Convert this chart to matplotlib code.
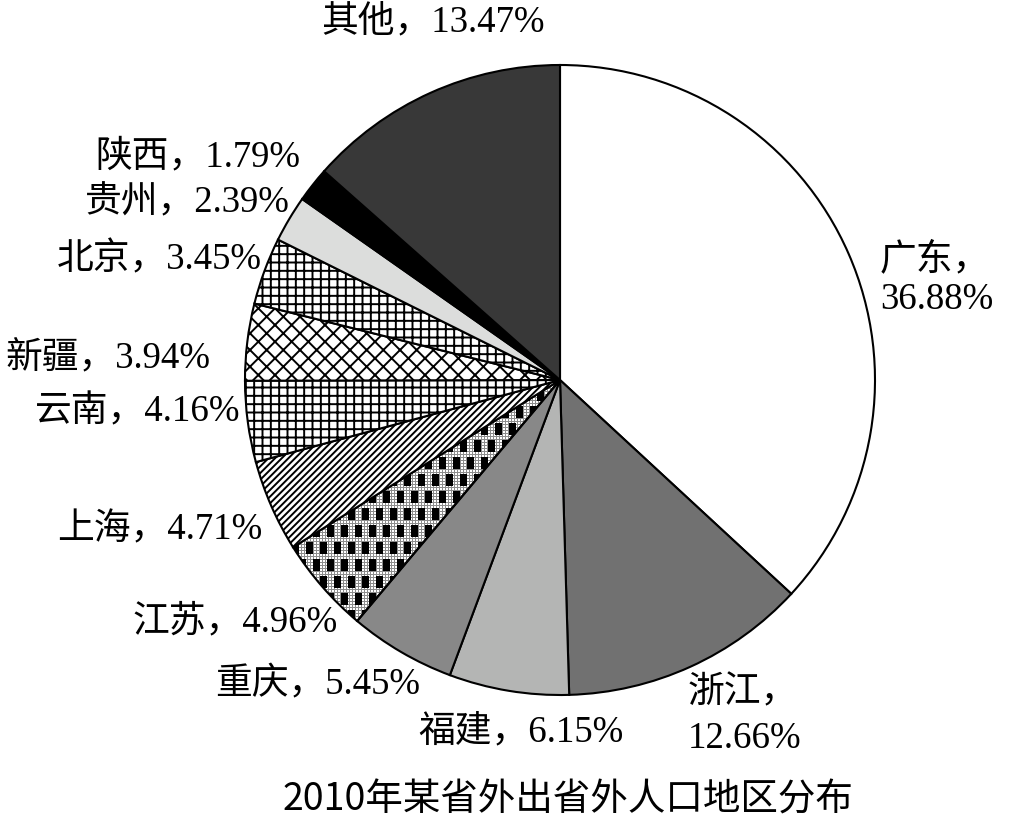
import numpy as np
import matplotlib
matplotlib.use("Agg")
import matplotlib.pyplot as plt

# data (clockwise from 12 o'clock)
regions = ["广东", "浙江", "福建", "重庆", "江苏", "上海",
           "云南", "新疆", "北京", "贵州", "陕西", "其他"]
shares = [36.88, 12.66, 6.15, 5.45, 4.96, 4.71,
          4.16, 3.94, 3.45, 2.39, 1.79, 13.47]
title = "2010年某省外出省外人口地区分布"

# styles
faces = ["white", "#717171", "#b4b5b4", "#888888", "none", "white",
         "white", "white", "white", "#dcdddc", "black", "#383838"]
hatches = [None, None, None, None, None, "/////",
           "++", "xx", "++", None, None, None]

# label anchors in pixels (x, y from top) and alignment
label_px = [(880, 280), (688, 716), (418, 732), (420, 685), (338, 622), (262, 530),
            (240, 412), (210, 358), (262, 260), (290, 203), (300, 157), (433, 22)]
label_ha = ["left", "left", "left", "right", "right", "right",
            "right", "right", "right", "right", "right", "center"]
two_line = {"广东": 1.2, "浙江": 1.45}

W, H = 1010, 818
CX, CY, R = 560, 380, 315

plt.rcParams['hatch.linewidth'] = 1.4
fig = plt.figure(figsize=(W / 100, H / 100), dpi=100)
ax = fig.add_axes([0, 0, 1, 1])


def px(x, y):
    return (x - CX) / R, (CY - y) / R


wedges, _ = ax.pie(shares, startangle=90, counterclock=False, radius=1,
                   colors=faces,
                   wedgeprops=dict(edgecolor="black", linewidth=1.5))
for w, h in zip(wedges, hatches):
    if h:
        w.set_hatch(h)

# texture for 江苏: fine grid with staggered black blocks
n = 662
yy, xx = np.mgrid[0:n, 0:n]
tex = np.ones((n, n))
tex[(xx % 3 == 0) | (yy % 3 == 0)] = 0.55
row = yy // 17
shift = (row % 2) * 7
blk = (((xx + shift) % 14) < 7) & ((yy % 17) < 12)
tex[blk] = 0.0
js = wedges[regions.index("江苏")]
im = ax.imshow(tex, cmap="gray", vmin=0, vmax=1, interpolation="nearest",
               extent=(-1.05, 1.05, -1.05, 1.05), zorder=0.5)
im.set_clip_path(js)

# pie() and imshow() set their own limits, so fix the view afterwards
ax.set_xlim(-CX / R, (W - CX) / R)
ax.set_ylim(-(H - CY) / R, CY / R)
ax.set_aspect('equal')
ax.axis('off')

fams = ["Liberation Serif", "Noto Sans CJK SC"]
for name, val, (lx, ly), ha in zip(regions, shares, label_px, label_ha):
    if name in two_line:
        txt = f"{name}，\n{val:.2f}%"
        ax.text(*px(lx, ly), txt, ha=ha, va="center", fontsize=26.5,
                family=fams, linespacing=two_line[name])
    else:
        ax.text(*px(lx, ly), f"{name}，{val:.2f}%", ha=ha, va="center",
                fontsize=26.5, family=fams)

fig.text(568 / W, 1 - 800 / H, title, ha="center", va="center",
         fontsize=27, family=["Noto Sans CJK SC", "DejaVu Sans"])

fig.savefig("out.png", dpi=100, facecolor="white")
